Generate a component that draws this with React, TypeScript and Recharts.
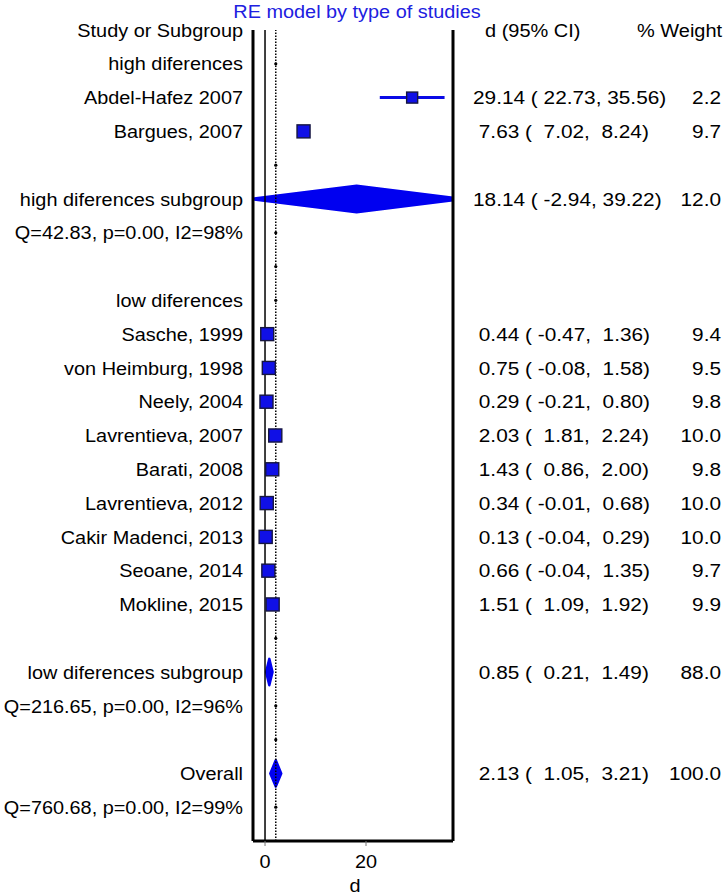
import React from 'react';
import { ComposedChart, XAxis, YAxis, Scatter, ErrorBar, ReferenceLine, ReferenceArea } from 'recharts';

// ---------- data ----------
const groupHeaders = ['high diferences', 'low diferences'];

const studyNames = [
  'Abdel-Hafez 2007', 'Bargues, 2007',
  'Sasche, 1999', 'von Heimburg, 1998', 'Neely, 2004', 'Lavrentieva, 2007', 'Barati, 2008',
  'Lavrentieva, 2012', 'Cakir Madenci, 2013', 'Seoane, 2014', 'Mokline, 2015',
];
const studyGroup = [0, 0, 1, 1, 1, 1, 1, 1, 1, 1, 1];
const studyD = [29.14, 7.63, 0.44, 0.75, 0.29, 2.03, 1.43, 0.34, 0.13, 0.66, 1.51];
const studyLo = [22.73, 7.02, -0.47, -0.08, -0.21, 1.81, 0.86, -0.01, -0.04, -0.04, 1.09];
const studyHi = [35.56, 8.24, 1.36, 1.58, 0.8, 2.24, 2.0, 0.68, 0.29, 1.35, 1.92];
const studyWeight = [2.2, 9.7, 9.4, 9.5, 9.8, 10.0, 9.8, 10.0, 10.0, 9.7, 9.9];

const subgroupNames = ['high diferences subgroup', 'low diferences subgroup', 'Overall'];
const subgroupD = [18.14, 0.85, 2.13];
const subgroupLo = [-2.94, 0.21, 1.05];
const subgroupHi = [39.22, 1.49, 3.21];
const subgroupWeight = [12.0, 88.0, 100.0];
const heterogeneity = ['Q=42.83, p=0.00, I2=98%', 'Q=216.65, p=0.00, I2=96%', 'Q=760.68, p=0.00, I2=99%'];

const xTicks = [0, 20];
const X_MIN = -2.38;
const X_MAX = 37.23;

// ---------- build rows ----------
type Row = {
  row: number; kind: string; label: string;
  d?: number; lo?: number; hi?: number; w?: number;
};

const pad = (s: string, n: number) => (s.length >= n ? s : ' '.repeat(n - s.length) + s);
const ciText = (d: number, lo: number, hi: number) =>
  `${pad(d.toFixed(2), 5)} (${pad(lo.toFixed(2), 6)},${pad(hi.toFixed(2), 6)})`;

const rows: Row[] = [];
rows.push({ row: 0, kind: 'header', label: 'Study or Subgroup' });
groupHeaders.forEach((g, gi) => {
  rows.push({ row: rows.length, kind: 'group', label: g });
  studyNames.forEach((n, i) => {
    if (studyGroup[i] === gi) {
      rows.push({ row: rows.length, kind: 'study', label: n, d: studyD[i], lo: studyLo[i], hi: studyHi[i], w: studyWeight[i] });
    }
  });
  rows.push({ row: rows.length, kind: 'blank', label: '' });
  rows.push({ row: rows.length, kind: 'sub', label: subgroupNames[gi], d: subgroupD[gi], lo: subgroupLo[gi], hi: subgroupHi[gi], w: subgroupWeight[gi] });
  rows.push({ row: rows.length, kind: 'q', label: heterogeneity[gi] });
  rows.push({ row: rows.length, kind: 'blank', label: '' });
});
rows.push({ row: rows.length, kind: 'sub', label: subgroupNames[2], d: subgroupD[2], lo: subgroupLo[2], hi: subgroupHi[2], w: subgroupWeight[2] });
rows.push({ row: rows.length, kind: 'q', label: heterogeneity[2] });

const rowTicks = rows.map((r) => r.row);
const overallD = subgroupD[2];

const studyData = rows
  .filter((r) => r.kind === 'study')
  .map((r) => ({ x: r.d as number, y: r.row, err: [(r.d as number) - (r.lo as number), (r.hi as number) - (r.d as number)], w: r.w as number }));

const dotData = rows
  .filter((r) => r.kind === 'group' || r.kind === 'blank' || r.kind === 'q')
  .map((r) => ({ x: overallD, y: r.row }));

const diamondRows = rows.filter((r) => r.kind === 'sub');

// ---------- styling ----------
const FONT = "'Liberation Sans', Arial, Helvetica, sans-serif";
const FS = 18.5;
const SX_L = 1.075;
const SX_R = 1.125;
const SX_H = 1.08;
const BLUE = '#0000f0';

const LeftTick = (props: any) => {
  const { x, y, payload } = props;
  const r = rows.find((rr) => rr.row === payload.value);
  if (!r || !r.label) return null;
  return (
    <g transform={`translate(${x},${y}) scale(${SX_L},1)`}>
      <text x={0} y={0} dy="0.36em" textAnchor="end" fontSize={FS} fontFamily={FONT} fill="#000">
        {r.label}
      </text>
    </g>
  );
};

const RightTick = (props: any) => {
  const { x, y, payload } = props;
  const r = rows.find((rr) => rr.row === payload.value);
  if (!r) return null;
  if (r.kind === 'header') {
    return (
      <g>
        <g transform={`translate(${x + 12},${y}) scale(${SX_H},1)`}>
          <text x={0} y={0} dy="0.36em" fontSize={FS} fontFamily={FONT} fill="#000">d (95% CI)</text>
        </g>
        <g transform={`translate(${x + 164},${y}) scale(${SX_H},1)`}>
          <text x={0} y={0} dy="0.36em" fontSize={FS} fontFamily={FONT} fill="#000">% Weight</text>
        </g>
      </g>
    );
  }
  if (r.d === undefined) return null;
  return (
    <g>
      <g transform={`translate(${x},${y}) scale(${SX_R},1)`}>
        <text x={0} y={0} dy="0.36em" fontSize={FS} fontFamily={FONT} fill="#000" style={{ whiteSpace: 'pre' }}>
          {ciText(r.d, r.lo as number, r.hi as number)}
        </text>
      </g>
      <g transform={`translate(${x + 248},${y}) scale(${SX_R},1)`}>
        <text x={0} y={0} dy="0.36em" textAnchor="end" fontSize={FS} fontFamily={FONT} fill="#000">
          {(r.w as number).toFixed(1)}
        </text>
      </g>
    </g>
  );
};

const XTick = (props: any) => {
  const { x, y, payload } = props;
  return (
    <g transform={`translate(${x},${y}) scale(${SX_L},1)`}>
      <text x={0} y={0} dy="1.1em" textAnchor="middle" fontSize={FS} fontFamily={FONT} fill="#000">
        {payload.value}
      </text>
    </g>
  );
};

const XLabel = (props: any) => {
  const vb = props.viewBox || { x: 253, y: 841, width: 200, height: 53 };
  const cx = vb.x + vb.width / 2 + 2;
  return (
    <g transform={`translate(${cx},${vb.y + vb.height - 2.5}) scale(${SX_L},1)`}>
      <text x={0} y={0} textAnchor="middle" fontSize={FS} fontFamily={FONT} fill="#000">d</text>
    </g>
  );
};

const Box = (props: any) => {
  const { cx, cy, payload } = props;
  if (cx == null || cy == null) return null;
  const s = 9.2 + 1.23 * Math.sqrt(payload.w);
  return <rect x={cx - s / 2} y={cy - s / 2} width={s} height={s} fill="#1010e6" stroke="#161640" strokeWidth={1.4} />;
};

const Dot = (props: any) => {
  const { cx, cy } = props;
  if (cx == null || cy == null) return null;
  return <circle cx={cx} cy={cy} r={1.6} fill="#000" />;
};

// Diamond inside the ReferenceArea rectangle; clipped to the x-domain using the
// pixel/value ratio that the library's scale produced for this area.
const Diamond = (props: any) => {
  const { x, y, width, height, lo, hi, rowKey } = props;
  if (x == null || width == null) return null;
  const mx = x + width / 2;
  const my = y + height / 2;
  const k = width / (hi - lo);
  const left = x + (X_MIN - lo) * k;
  const right = x + (X_MAX - lo) * k;
  const id = `dclip-${rowKey}`;
  return (
    <g>
      <defs>
        <clipPath id={id}>
          <rect x={left} y={y - 6} width={right - left} height={height + 12} />
        </clipPath>
      </defs>
      <g clipPath={`url(#${id})`}>
        <polygon
          points={`${x},${my} ${mx},${y} ${x + width},${my} ${mx},${y + height}`}
          fill={BLUE}
          stroke={BLUE}
          strokeWidth={2.5}
          strokeLinejoin="round"
        />
      </g>
    </g>
  );
};

export default function App() {
  return (
    <div style={{ position: 'absolute', left: 0, top: 0, width: 727, height: 894, background: '#fff' }}>
      <ComposedChart width={727} height={894} margin={{ top: 30, right: 0, bottom: 0, left: 0 }}>
        <XAxis
          type="number"
          dataKey="x"
          domain={[X_MIN, X_MAX]}
          allowDataOverflow
          ticks={xTicks}
          interval={0}
          height={53}
          axisLine={{ stroke: '#000', strokeWidth: 3 }}
          tickLine={{ stroke: '#777', strokeWidth: 1 }}
          tickSize={5}
          tick={<XTick />}
          label={<XLabel />}
        />
        <YAxis
          yAxisId="left"
          type="number"
          dataKey="y"
          domain={[0, 24]}
          reversed
          allowDataOverflow
          ticks={rowTicks}
          interval={0}
          width={253}
          axisLine={{ stroke: '#000', strokeWidth: 3 }}
          tickLine={false}
          tickSize={0}
          tickMargin={10}
          tick={<LeftTick />}
        />
        <YAxis
          yAxisId="right"
          orientation="right"
          type="number"
          dataKey="y"
          domain={[0, 24]}
          reversed
          allowDataOverflow
          ticks={rowTicks}
          interval={0}
          width={274}
          axisLine={{ stroke: '#000', strokeWidth: 3 }}
          tickLine={false}
          tickSize={0}
          tickMargin={20}
          tick={<RightTick />}
        />
        <ReferenceLine yAxisId="left" x={0} stroke="#000" strokeWidth={1.5} />
        <ReferenceLine yAxisId="left" x={overallD} stroke="#000" strokeWidth={1.5} strokeDasharray="1.5 1.5" />
        {diamondRows.map((r) => (
          <ReferenceArea
            key={r.row}
            yAxisId="left"
            x1={r.lo}
            x2={r.hi}
            y1={r.row - 0.39}
            y2={r.row + 0.39}
            ifOverflow="visible"
            fill={BLUE}
            fillOpacity={1}
            shape={<Diamond lo={r.lo} hi={r.hi} rowKey={r.row} />}
          />
        ))}
        <Scatter yAxisId="left" data={dotData} shape={<Dot />} isAnimationActive={false} />
        <Scatter yAxisId="left" data={studyData} shape={<Box />} isAnimationActive={false}>
          <ErrorBar dataKey="err" direction="x" width={0} stroke="#0a0ae6" strokeWidth={3} />
        </Scatter>
      </ComposedChart>
      <svg width={727} height={30} style={{ position: 'absolute', left: 0, top: 0 }}>
        <g transform={`translate(357,17.6) scale(${SX_L},1)`}>
          <text x={0} y={0} textAnchor="middle" fontSize={FS} fontFamily={FONT} fill="#2020e0">
            RE model by type of studies
          </text>
        </g>
      </svg>
    </div>
  );
}
